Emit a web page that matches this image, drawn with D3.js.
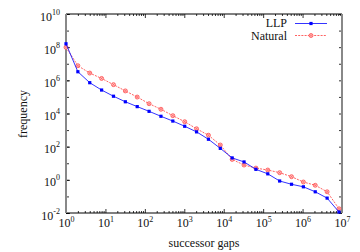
<!DOCTYPE html>
<html>
<head>
<meta charset="utf-8">
<script src="https://cdn.jsdelivr.net/npm/d3@7"></script>
<style>
  body { margin: 0; background: #fff; }
  text { font-family: "Liberation Serif", "Times New Roman", serif; fill: #111; }
</style>
</head>
<body>
<div id="chart"></div>
<script>
// successor gap buckets (powers of two)
var gaps = [1, 2, 4, 8, 16, 32, 64, 128, 256, 512, 1024, 2048, 4096, 8192, 16384,
  32768, 65536, 131072, 262144, 524288, 1048576, 2097152, 4194304, 8388608];

// frequencies
var llp = [1.6e8, 3.3e6, 7.2e5, 2.6e5, 1.1e5, 5.1e4, 2.6e4, 1.35e4, 6.8e3, 3.5e3,
  1.7e3, 780, 280, 79, 21, 12, 4.3, 2.3, 0.85, 0.54, 0.38, 0.19, 0.079, 0.0115];
var natural = [9.8e7, 7.6e6, 2.75e6, 1.3e6, 5.5e5, 2.3e5, 9.8e4, 3.9e4, 1.8e4, 7.4e3,
  3.2e3, 1.2e3, 490, 126, 17, 7.8, 5.1, 3.9, 2.7, 1.55, 0.74, 0.47, 0.19, 0.018];

var xTicks = [1, 10, 100, 1e3, 1e4, 1e5, 1e6, 1e7];
var xTickExp = ["0", "1", "2", "3", "4", "5", "6", "7"];
var yTicks = [1e-2, 1, 1e2, 1e4, 1e6, 1e8, 1e10];
var yTickExp = ["-2", "0", "2", "4", "6", "8", "10"];

var width = 360, height = 252;
var margin = {top: 14, right: 18, bottom: 39, left: 66};

var svg = d3.select("#chart").append("svg")
  .attr("width", width)
  .attr("height", height);

var x = d3.scaleLog().domain([1, 1e7]).range([margin.left, width - margin.right]);
var y = d3.scaleLog().domain([1e-2, 1e10]).range([height - margin.bottom, margin.top]);

// minor ticks
var xMinor = [];
for (var d = 1; d < 1e7; d *= 10) {
  for (var k = 2; k < 10; k++) xMinor.push(d * k);
}
var yAll = [];
for (var e = -2; e <= 10; e++) yAll.push(Math.pow(10, e));

function tickAxis(axis, sel) {
  sel.call(axis);
  sel.select(".domain").remove();
  sel.selectAll("line").attr("stroke", "#000").attr("stroke-width", 0.8);
}

tickAxis(d3.axisBottom(x).tickValues(xMinor).tickSize(-2).tickFormat(""),
  svg.append("g").attr("transform", "translate(0," + y.range()[0] + ")"));
tickAxis(d3.axisTop(x).tickValues(xMinor).tickSize(-2).tickFormat(""),
  svg.append("g").attr("transform", "translate(0," + y.range()[1] + ")"));
tickAxis(d3.axisTop(x).tickValues(xTicks).tickSize(-4).tickFormat(""),
  svg.append("g").attr("transform", "translate(0," + y.range()[1] + ")"));
tickAxis(d3.axisLeft(y).tickValues(yAll).tickSize(-3).tickFormat(""),
  svg.append("g").attr("transform", "translate(" + x.range()[0] + ",0)"));
tickAxis(d3.axisRight(y).tickValues(yAll).tickSize(-3).tickFormat(""),
  svg.append("g").attr("transform", "translate(" + x.range()[1] + ",0)"));

// major x axis with labels
var gx = svg.append("g").attr("transform", "translate(0," + y.range()[0] + ")");
tickAxis(d3.axisBottom(x).tickValues(xTicks).tickSize(-4).tickFormat(""), gx);
gx.selectAll(".tick").append("text")
  .attr("y", 14)
  .attr("text-anchor", "middle")
  .style("font-size", "12px")
  .each(function(d, i) {
    var t = d3.select(this);
    t.append("tspan").text("10");
    t.append("tspan").attr("dy", -5).style("font-size", "8px").text(xTickExp[i]);
  });

// major y axis with labels
var gy = svg.append("g").attr("transform", "translate(" + x.range()[0] + ",0)");
tickAxis(d3.axisLeft(y).tickValues(yTicks).tickSize(-4).tickFormat(""), gy);
gy.selectAll(".tick").append("text")
  .attr("x", -6)
  .attr("y", 6)
  .attr("text-anchor", "end")
  .style("font-size", "12px")
  .each(function(d, i) {
    var t = d3.select(this);
    t.append("tspan").text("10");
    t.append("tspan").attr("dy", -6).style("font-size", "8px").text(yTickExp[i]);
  });

// frame
svg.append("line").attr("x1", x.range()[0]).attr("x2", x.range()[1])
  .attr("y1", y.range()[1]).attr("y2", y.range()[1]).attr("stroke", "#000").attr("stroke-width", 1);
svg.append("line").attr("x1", x.range()[0]).attr("x2", x.range()[1])
  .attr("y1", y.range()[0]).attr("y2", y.range()[0]).attr("stroke", "#000").attr("stroke-width", 1);
svg.append("line").attr("x1", x.range()[0]).attr("x2", x.range()[0])
  .attr("y1", y.range()[1]).attr("y2", y.range()[0]).attr("stroke", "#888").attr("stroke-width", 2);
svg.append("line").attr("x1", x.range()[1]).attr("x2", x.range()[1])
  .attr("y1", y.range()[1]).attr("y2", y.range()[0]).attr("stroke", "#888").attr("stroke-width", 2);

// axis titles
svg.append("text")
  .attr("x", (x.range()[0] + x.range()[1]) / 2)
  .attr("y", 247)
  .attr("text-anchor", "middle")
  .style("font-size", "12px")
  .text("successor gaps");
svg.append("text")
  .attr("transform", "translate(27,114) rotate(-90)")
  .attr("text-anchor", "middle")
  .style("font-size", "12px")
  .text("frequency");

var line = d3.line()
  .x(function(d) { return x(d[0]); })
  .y(function(d) { return y(d[1]); });

var natData = gaps.map(function(g, i) { return [g, natural[i]]; });
var llpData = gaps.map(function(g, i) { return [g, llp[i]]; });

var red = "#ff5050", blue = "#0000ff";

function redPoint(sel) {
  sel.append("circle").attr("r", 2)
    .attr("fill", "#ffc0c0").attr("stroke", red).attr("stroke-width", 0.8);
  sel.append("path").attr("d", "M-1.2,-1.2L1.2,1.2M-1.2,1.2L1.2,-1.2")
    .attr("stroke", red).attr("stroke-width", 0.6);
}
function bluePoint(sel) {
  sel.append("rect").attr("x", -1.6).attr("y", -1.6).attr("width", 3.2).attr("height", 3.2)
    .attr("fill", blue);
}

// Natural series
svg.append("path").datum(natData)
  .attr("d", line)
  .attr("fill", "none")
  .attr("stroke", red)
  .attr("stroke-width", 0.9)
  .attr("stroke-dasharray", "2,1.2");
svg.selectAll(".natpt").data(natData).enter().append("g")
  .attr("class", "natpt")
  .attr("transform", function(d) { return "translate(" + x(d[0]) + "," + y(d[1]) + ")"; })
  .call(redPoint);

// LLP series
svg.append("path").datum(llpData)
  .attr("d", line)
  .attr("fill", "none")
  .attr("stroke", blue)
  .attr("stroke-width", 0.8);
svg.selectAll(".llppt").data(llpData).enter().append("g")
  .attr("class", "llppt")
  .attr("transform", function(d) { return "translate(" + x(d[0]) + "," + y(d[1]) + ")"; })
  .call(bluePoint);

// legend
var legend = svg.append("g");
legend.append("text").attr("x", 287).attr("y", 27).attr("text-anchor", "end")
  .style("font-size", "12px").text("LLP");
legend.append("line").attr("x1", 295).attr("x2", 327).attr("y1", 23.5).attr("y2", 23.5)
  .attr("stroke", blue).attr("stroke-width", 0.8);
legend.append("g").attr("transform", "translate(311,23.5)").call(bluePoint);

legend.append("text").attr("x", 287).attr("y", 39.5).attr("text-anchor", "end")
  .style("font-size", "12px").text("Natural");
legend.append("line").attr("x1", 295).attr("x2", 327).attr("y1", 35.5).attr("y2", 35.5)
  .attr("stroke", red).attr("stroke-width", 0.9).attr("stroke-dasharray", "2,1.2");
legend.append("g").attr("transform", "translate(311,35.5)").call(redPoint);
</script>
</body>
</html>
